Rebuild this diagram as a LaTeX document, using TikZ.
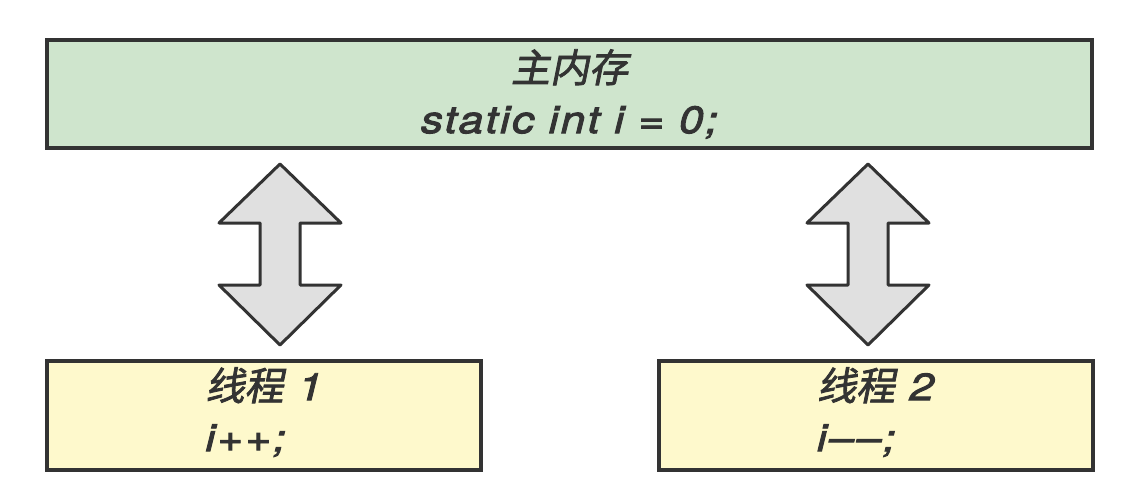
\documentclass[tikz,border=0pt]{standalone}
\usepackage{fontspec}
\setmainfont{TeX Gyre Heros}[LetterSpace=6, FakeStretch=1.16, FakeBold=2.5]
\newfontfamily\cjk{Noto Sans CJK SC}[FakeSlant=0.2, FakeBold=2]
\usetikzlibrary{positioning}
\definecolor{memgreen}{HTML}{CFE5CD}
\definecolor{threadyellow}{HTML}{FEF9CC}
\definecolor{arrowgray}{HTML}{E0E0E0}
\definecolor{inkgray}{HTML}{333333}
\tikzset{
  box/.style={draw=inkgray, line width=2pt, inner sep=0pt, text=inkgray,
    font=\fontsize{19}{25.5}\selectfont\itshape},
  membox/.style={box, fill=memgreen, minimum width=522.5pt, minimum height=54pt, align=center},
  threadbox/.style={box, fill=threadyellow, minimum width=217pt, minimum height=54.5pt},
  bigarrow/.style={draw=inkgray, fill=arrowgray, line width=1.5pt, line join=round}
}
\begin{document}
\begin{tikzpicture}[x=0.5pt, y=-0.5pt]
  \useasboundingbox (0,0) rectangle (1138,502);

  \node[membox] (mem) at (569.5,94) {{\cjk\fontsize{19.5}{25.5}\selectfont 主内存}\\static int i = 0;};

  \node[threadbox] (t1) at (264,415.5) {\begin{tabular}{@{}l@{}}{\cjk\fontsize{19.5}{25.5}\selectfont 线程} 1\\i++;\end{tabular}};
  \node[threadbox] (t2) at (875.5,415.5) {\begin{tabular}{@{}l@{}}{\cjk\fontsize{19.5}{25.5}\selectfont 线程} 2\\i\textendash\kern1.5pt\textendash;\end{tabular}};

  % two-way arrows between memory and threads
  \foreach \ax in {280,868} {
    \draw[bigarrow] (\ax,164) -- (\ax+61,223) -- (\ax+20,223) -- (\ax+20,285)
      -- (\ax+61,285) -- (\ax,345) -- (\ax-61,285) -- (\ax-20,285)
      -- (\ax-20,223) -- (\ax-61,223) -- cycle;
  }
\end{tikzpicture}
\end{document}
